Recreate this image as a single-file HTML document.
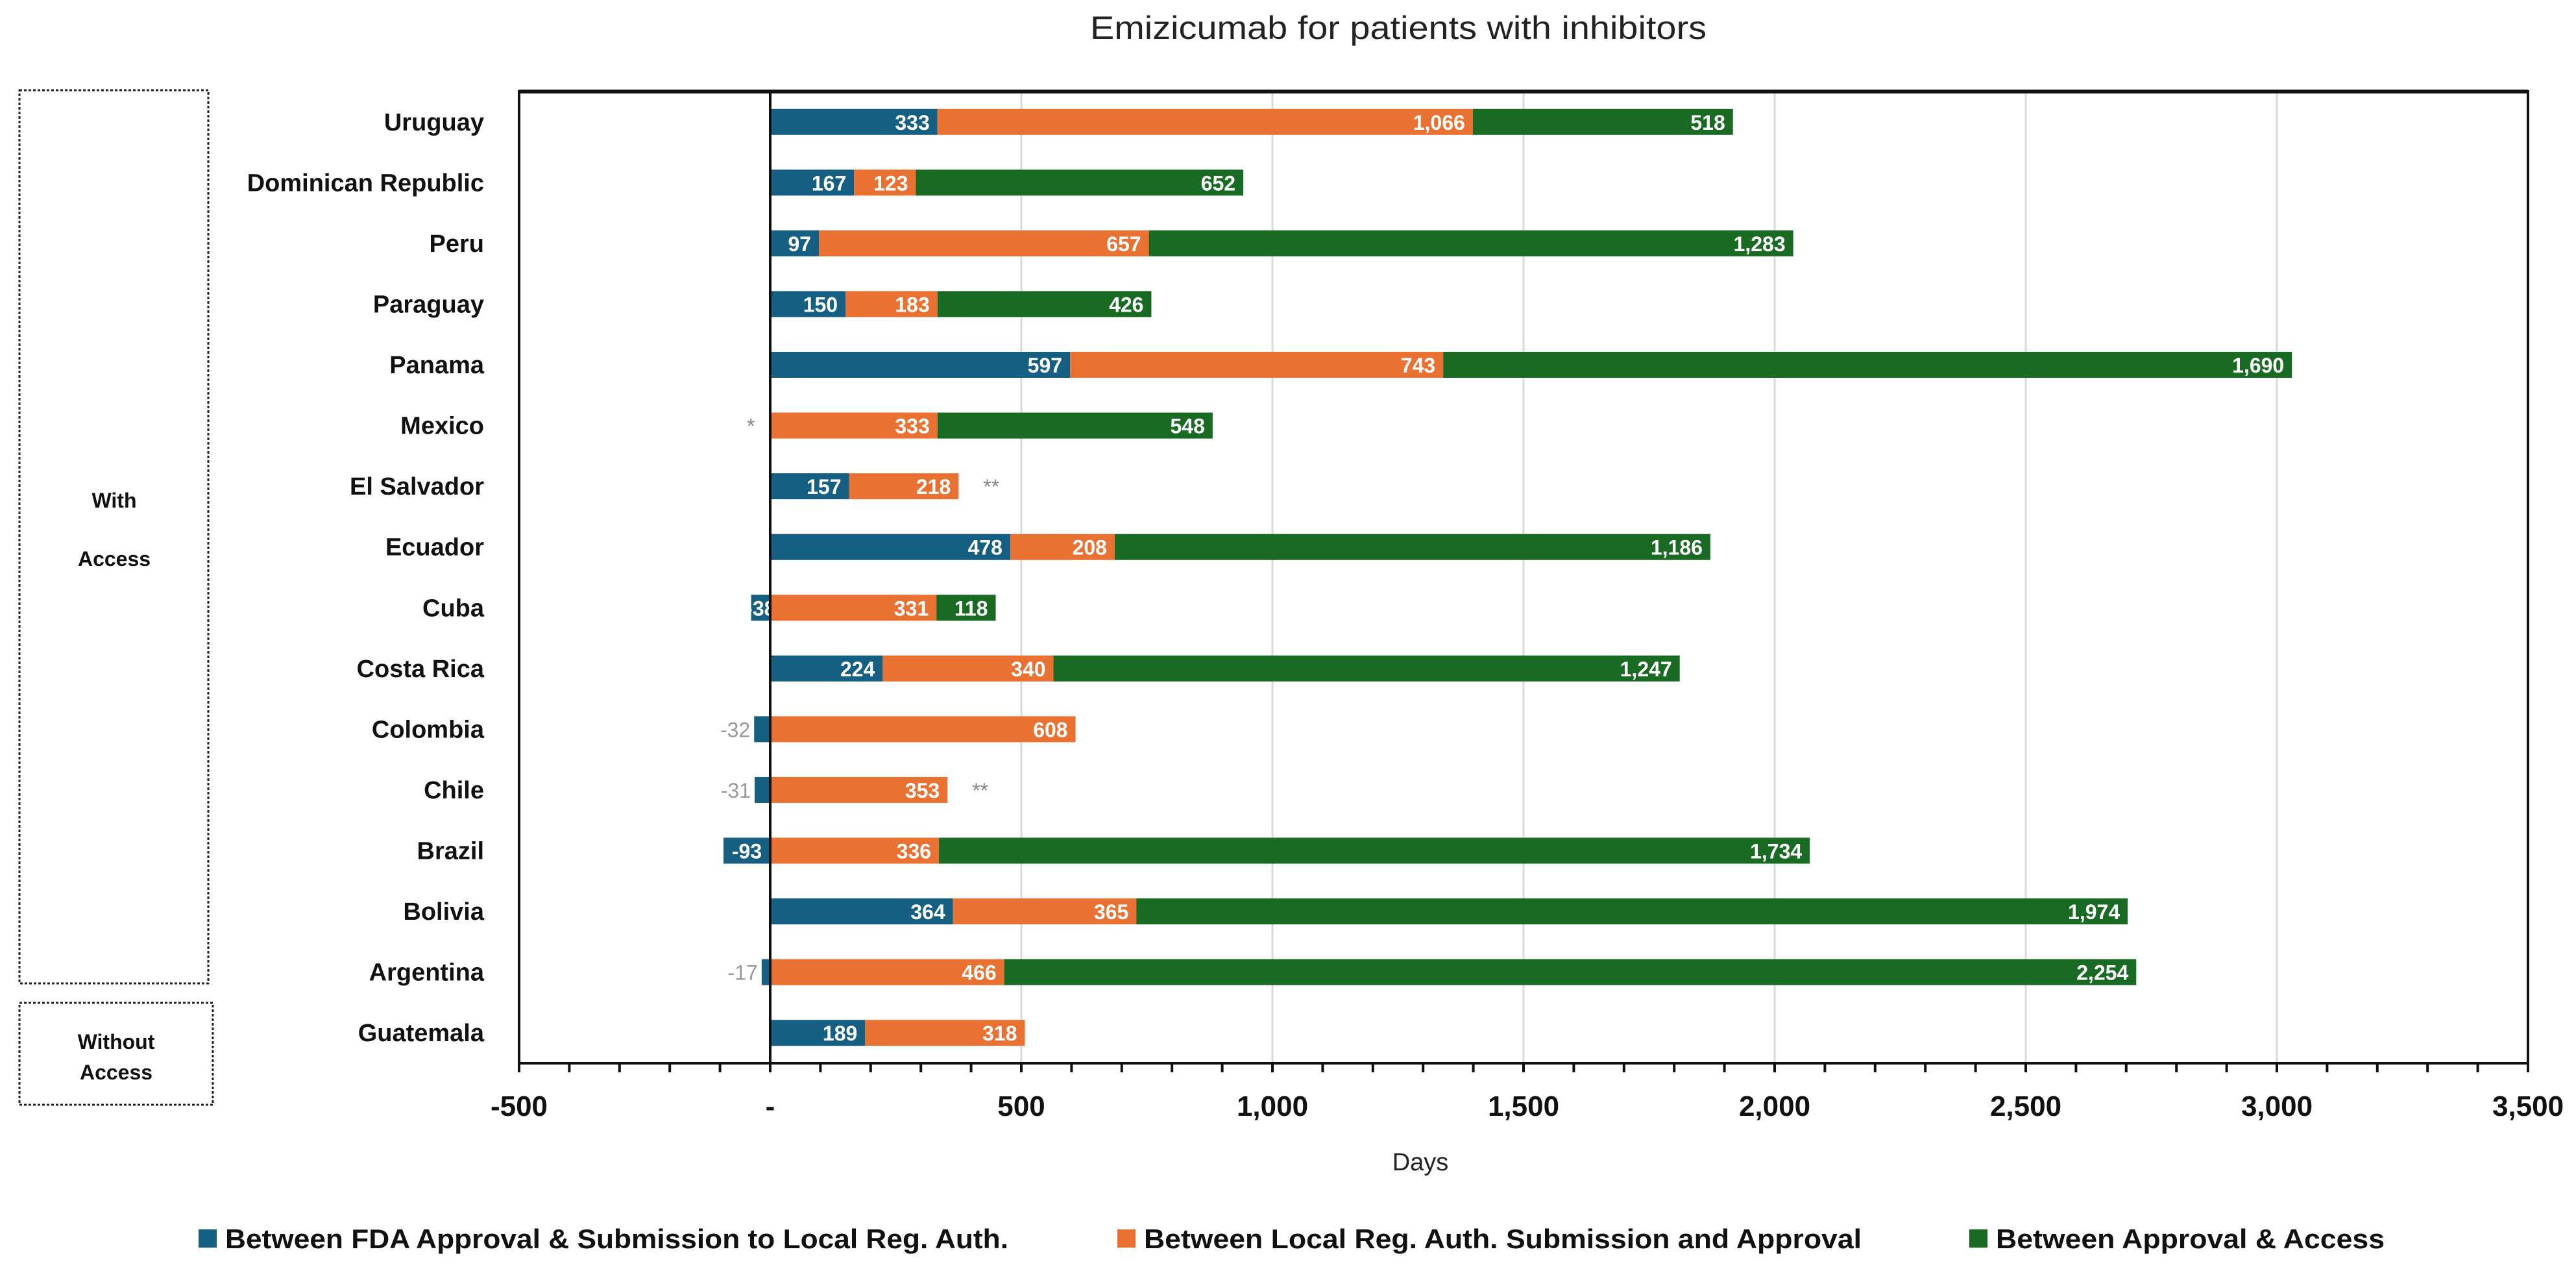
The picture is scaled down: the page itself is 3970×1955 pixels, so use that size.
<!DOCTYPE html>
<html><head><meta charset="utf-8"><style>
html,body{margin:0;padding:0;background:#fff;}
svg{display:block;font-family:"Liberation Sans",sans-serif;}
</style></head><body>
<svg id="chart" width="3970" height="1955" viewBox="0 0 3970 1955" xmlns="http://www.w3.org/2000/svg">
<text x="2155" y="60" font-size="50" text-anchor="middle" fill="#222" textLength="950" lengthAdjust="spacingAndGlyphs">Emizicumab for patients with inhibitors</text>
<g>
<rect x="30" y="139" width="291" height="1376" fill="none" stroke="#222" stroke-width="3" stroke-dasharray="4 3"/>
<text x="176" y="782" font-size="32" font-weight="bold" text-anchor="middle" fill="#111">With</text>
<text x="176" y="872" font-size="32" font-weight="bold" text-anchor="middle" fill="#111">Access</text>
</g>
<g>
<rect x="30" y="1545" width="298" height="157" fill="none" stroke="#222" stroke-width="3" stroke-dasharray="4 3"/>
<text x="179" y="1616" font-size="32" font-weight="bold" text-anchor="middle" fill="#111">Without</text>
<text x="179" y="1663" font-size="32" font-weight="bold" text-anchor="middle" fill="#111">Access</text>
</g>
<g id="plot"></g>
<text x="2189" y="1803" font-size="38" text-anchor="middle" fill="#222">Days</text>
<g id="legend"></g>
</svg>
<script>
const categories = ["Uruguay","Dominican Republic","Peru","Paraguay","Panama","Mexico","El Salvador","Ecuador","Cuba","Costa Rica","Colombia","Chile","Brazil","Bolivia","Argentina","Guatemala"];
const fdaToSubmission = [333,167,97,150,597,0,157,478,-38,224,-32,-31,-93,364,-17,189];
const submissionToApproval = [1066,123,657,183,743,333,218,208,331,340,608,353,336,365,466,318];
const approvalToAccess = [518,652,1283,426,1690,548,0,1186,118,1247,0,0,1734,1974,2254,0];
const notes = ["","","","","","*","**","","","","","**","","","",""];
const xTicks = [-500,0,500,1000,1500,2000,2500,3000,3500];
const xTickLabels = ["-500","-","500","1,000","1,500","2,000","2,500","3,000","3,500"];
const seriesNames = ["Between FDA Approval & Submission to Local Reg. Auth.","Between Local Reg. Auth. Submission and Approval","Between Approval & Access"];

const NS="http://www.w3.org/2000/svg";
const colors=["#156082","#E97132","#196B24"];
const L=800,R=3896,T=141,B=1638,xMin=-500,xMax=3500;
const x=v=>L+(v-xMin)/(xMax-xMin)*(R-L);
const step=(B-T)/categories.length;
const yc=i=>T+step*(i+0.5);
const barH=40;
const plot=document.getElementById('plot');
function mk(tag,attrs,parent){const e=document.createElementNS(NS,tag);for(const k in attrs)e.setAttribute(k,attrs[k]);(parent||plot).appendChild(e);return e;}
const fmt=v=>{const s=Math.abs(v).toLocaleString('en-US');return v<0?'-'+s:s;};

// gridlines
for(let v=500;v<=3000;v+=500){
  const g=mk('line',{x1:x(v),x2:x(v),y1:T,y2:B,stroke:'#d9d9d9','stroke-width':3});
  
  
}
// bars
const series=[fdaToSubmission,submissionToApproval,approvalToAccess];
categories.forEach((c,i)=>{
  const lab=mk('text',{x:746,y:yc(i)+13,'font-size':38,'font-weight':'bold','text-anchor':'end',fill:'#111'});
  lab.textContent=c;
  
  
  let pos=0,neg=0,end=0;
  series.forEach((s,k)=>{
    const v=s[i]; if(!v) return;
    let a,b;
    if(v>=0){a=pos;b=pos+v;pos=b;}else{a=neg+v;b=neg;neg=a;}
    const r=mk('rect',{x:x(a),y:yc(i)-barH/2,width:x(b)-x(a),height:barH,fill:colors[k]});
    
    
    let t;
    if(v<0 && Math.abs(v)<35){
      t=mk('text',{x:x(a)-6,y:yc(i)+12,'font-size':32,'text-anchor':'end',fill:'#999'});
    }else if(v<0){
      t=mk('text',{x:(x(a)+x(b))/2,y:yc(i)+12,'font-size':32,'font-weight':'bold','text-anchor':'middle',fill:'#fff'});
    }else{
      t=mk('text',{x:x(b)-12,y:yc(i)+12,'font-size':32,'font-weight':'bold','text-anchor':'end',fill:'#fff'});
    }
    t.textContent=fmt(v);
    
    
    end=Math.max(end,pos);
  });
  if(notes[i]){
    const nx=notes[i]==='*'?x(0)-36:x(pos)+38;
    const n=mk('text',{x:nx,y:yc(i)+12,'font-size':32,'text-anchor':'start',fill:'#888'});
    n.textContent=notes[i];
    
    
  }
});
// zero line and frame
const z=mk('line',{x1:x(0),x2:x(0),y1:T,y2:B,stroke:'#111','stroke-width':4});


const fr=mk('rect',{x:L,y:T,width:R-L,height:B-T,fill:'none',stroke:'#111','stroke-width':4});


mk('line',{x1:L,x2:R,y1:T,y2:T,stroke:'#111','stroke-width':6});
// ticks
for(let v=xMin;v<=xMax;v+=100){
  const tk=mk('line',{x1:x(v),x2:x(v),y1:B,y2:B+14,stroke:'#111','stroke-width':4});
  
  
}
xTicks.forEach((v,j)=>{
  const t=mk('text',{x:x(v),y:1719,'font-size':44,'font-weight':'bold','text-anchor':'middle',fill:'#111'});
  t.textContent=xTickLabels[j];
  
  
});
// legend
const lg=document.getElementById('legend');
const lgX=[306,1722,3035], lgW=[1207,1106,599];
seriesNames.forEach((n,k)=>{
  const g=mk('g',{},lg);
  
  
  mk('rect',{x:lgX[k],y:1894,width:28,height:28,fill:colors[k]},g);
  const t=mk('text',{x:lgX[k]+41,y:1923,'font-size':42,'font-weight':'bold',fill:'#111',textLength:lgW[k],lengthAdjust:'spacingAndGlyphs'},g);
  t.textContent=n;
});
</script>
</body></html>
